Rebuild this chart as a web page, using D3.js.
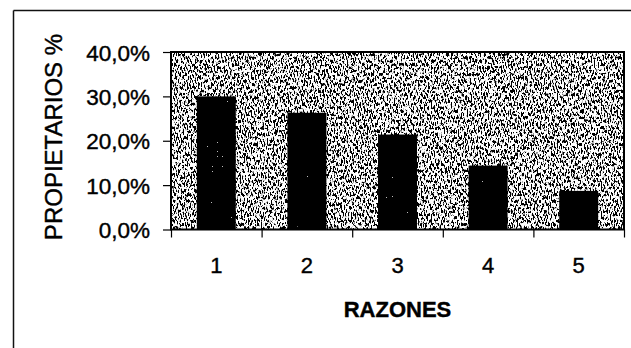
<!DOCTYPE html>
<html>
<head>
<meta charset="utf-8">
<script src="https://cdn.jsdelivr.net/npm/d3@7/dist/d3.min.js"></script>
<style>
  html, body { margin: 0; padding: 0; background: #fff; }
  svg { display: block; }
  text { font-family: Arial, "Liberation Sans", sans-serif; fill: #000; stroke: #000; stroke-width: 0.4px; }
</style>
</head>
<body>
<svg id="chart" width="631" height="348"></svg>
<script>
// Share of owners (%) by reason
const categories = ["1", "2", "3", "4", "5"];
const values = [30.0, 26.3, 21.4, 14.4, 8.7];
const yTicks = [0, 10, 20, 30, 40];
const xTitle = "RAZONES";
const yTitle = "PROPIETARIOS %";

const W = 631, H = 348;
const plot = { left: 171, right: 624, top: 52, bottom: 229.5 };

const svg = d3.select("#chart");
const defs = svg.append("defs");

// Dithered grey speckle for the plot background (horizontally streaked)
const grain = defs.append("filter").attr("id", "grain")
  .attr("x", 0).attr("y", 0).attr("width", 1).attr("height", 1);
grain.append("feTurbulence").attr("type", "fractalNoise")
  .attr("baseFrequency", "0.7 0.3").attr("numOctaves", 2).attr("seed", 7);
grain.append("feColorMatrix").attr("type", "matrix")
  .attr("values", "1 0 0 0 0  1 0 0 0 0  1 0 0 0 0  0 0 0 0 1");
const ct = grain.append("feComponentTransfer");
const cut = 0.475, slope = 14;
["feFuncR", "feFuncG", "feFuncB"].forEach(f =>
  ct.append(f).attr("type", "linear").attr("slope", slope).attr("intercept", -slope * cut + 0.5));

// Sparse light specks inside the black bars
const speck = defs.append("filter").attr("id", "speck")
  .attr("x", 0).attr("y", 0).attr("width", 1).attr("height", 1);
speck.append("feTurbulence").attr("type", "fractalNoise")
  .attr("baseFrequency", "0.8").attr("numOctaves", 1).attr("seed", 3);
speck.append("feColorMatrix").attr("type", "matrix")
  .attr("values", "1 0 0 0 0  1 0 0 0 0  1 0 0 0 0  0 0 0 0 1");
const ct2 = speck.append("feComponentTransfer");
["feFuncR", "feFuncG", "feFuncB"].forEach(f =>
  ct2.append(f).attr("type", "discrete")
    .attr("tableValues", "0 0 0 0 0 0 0 0 0 0 0 0.5 0.8 1"));
speck.append("feComposite").attr("in2", "SourceAlpha").attr("operator", "in");

// Outer frame (top and left edges)
svg.append("line").attr("x1", 13.5).attr("y1", 10.5).attr("x2", W).attr("y2", 10.5)
  .attr("stroke", "#111").attr("stroke-width", 1.5);
svg.append("line").attr("x1", 13.5).attr("y1", 10.5).attr("x2", 13.5).attr("y2", H)
  .attr("stroke", "#111").attr("stroke-width", 1.5);

// Scales
const x = d3.scaleBand().domain(categories)
  .range([plot.left, plot.right]).paddingInner(0.57).paddingOuter(0.285);
const xEdge = d3.scaleLinear().domain([0, categories.length]).range([plot.left, plot.right]);
const y = d3.scaleLinear().domain([0, 40]).range([plot.bottom, plot.top]);

// Plot background
svg.append("rect")
  .attr("x", plot.left).attr("y", plot.top)
  .attr("width", plot.right - plot.left).attr("height", plot.bottom - plot.top)
  .attr("fill", "#999").attr("filter", "url(#grain)");

// Bars
const bars = svg.append("g");
bars.selectAll("rect.bar").data(values).join("rect").attr("class", "bar")
  .attr("x", (d, i) => x(categories[i]))
  .attr("y", d => y(d))
  .attr("width", x.bandwidth())
  .attr("height", d => y(0) - y(d))
  .attr("fill", "#000");
bars.selectAll("rect.spk").data(values).join("rect").attr("class", "spk")
  .attr("x", (d, i) => x(categories[i]) + 3)
  .attr("y", d => y(d) + 4)
  .attr("width", x.bandwidth() - 6)
  .attr("height", d => y(0) - y(d) - 7)
  .attr("fill", "#000")
  .attr("filter", "url(#speck)");

// Plot border
svg.append("rect")
  .attr("x", plot.left).attr("y", plot.top)
  .attr("width", plot.right - plot.left).attr("height", plot.bottom - plot.top)
  .attr("fill", "none").attr("stroke", "#000").attr("stroke-width", 2);

// Y axis
const yAxis = svg.append("g").attr("transform", `translate(${plot.left},0)`)
  .call(d3.axisLeft(y).tickValues(yTicks).tickSize(8).tickPadding(13)
    .tickFormat(d => d.toFixed(1).replace(".", ",") + "%"));
yAxis.select(".domain").remove();
yAxis.selectAll("line").attr("stroke", "#000").attr("stroke-width", 1.2);
yAxis.selectAll("text").style("font-size", "22.5px").style("font-family", "Arial, 'Liberation Sans', sans-serif")
  .attr("dy", "0.36em");

// X axis: tick marks at category boundaries
const xTickAxis = svg.append("g").attr("transform", `translate(0,${plot.bottom})`)
  .call(d3.axisBottom(xEdge).tickValues(d3.range(categories.length + 1)).tickSize(8).tickFormat(""));
xTickAxis.select(".domain").remove();
xTickAxis.selectAll("line").attr("stroke", "#000").attr("stroke-width", 1.2);

// X axis: category labels
const xAxis = svg.append("g").attr("transform", `translate(0,${plot.bottom})`)
  .call(d3.axisBottom(x).tickSize(0));
xAxis.select(".domain").remove();
xAxis.selectAll("text").style("font-size", "22px").style("font-family", "Arial, 'Liberation Sans', sans-serif")
  .attr("y", 43.5).attr("dy", null);

// Axis titles
svg.append("text")
  .attr("x", (plot.left + plot.right) / 2).attr("y", 317)
  .attr("text-anchor", "middle")
  .style("font-size", "22px").style("font-weight", "bold")
  .text(xTitle);

svg.append("text")
  .attr("transform", "translate(62,137) rotate(-90)")
  .attr("text-anchor", "middle")
  .style("font-size", "24px")
  .text(yTitle);
</script>
</body>
</html>
